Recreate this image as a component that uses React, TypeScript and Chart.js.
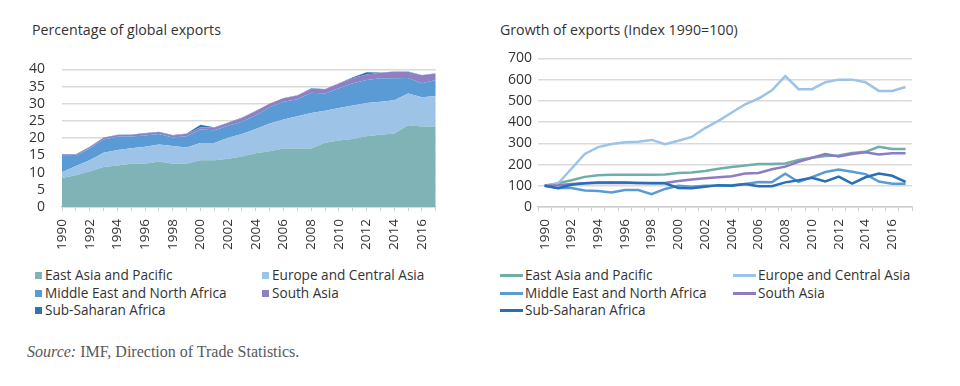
import React, { useEffect, useRef } from "react";
import { Chart, registerables } from "chart.js";

Chart.register(...registerables);

const years = [
  "1990", "1991", "1992", "1993", "1994", "1995", "1996", "1997", "1998", "1999",
  "2000", "2001", "2002", "2003", "2004", "2005", "2006", "2007", "2008", "2009",
  "2010", "2011", "2012", "2013", "2014", "2015", "2016", "2017",
];

const seriesNames = [
  "East Asia and Pacific",
  "Europe and Central Asia",
  "Middle East and North Africa",
  "South Asia",
  "Sub-Saharan Africa",
];

// Percentage of global exports (stacked)
const shareEastAsia = [8.4, 9.2, 10.3, 11.6, 12.1, 12.6, 12.6, 13.2, 12.6, 12.6, 13.6, 13.6, 14.0, 14.7, 15.6, 16.2, 17.0, 17.0, 17.0, 18.7, 19.3, 19.8, 20.6, 21.0, 21.4, 23.8, 23.4, 23.4];
const shareEurope = [1.7, 2.7, 3.3, 4.2, 4.5, 4.5, 4.9, 5.0, 5.1, 4.7, 5.0, 5.0, 6.1, 6.5, 7.1, 8.1, 8.4, 9.4, 10.3, 9.3, 9.5, 9.7, 9.6, 9.6, 9.6, 9.2, 8.5, 8.9];
const shareMENA = [4.8, 2.9, 3.4, 3.8, 3.8, 3.4, 3.3, 3.0, 2.5, 3.3, 3.9, 3.7, 3.5, 3.6, 4.0, 4.7, 5.2, 4.9, 5.9, 5.0, 5.7, 6.5, 6.7, 6.8, 6.4, 4.5, 4.1, 4.6];
const shareSouthAsia = [0.4, 0.4, 0.4, 0.5, 0.5, 0.5, 0.6, 0.6, 0.6, 0.7, 0.7, 0.8, 0.9, 1.1, 1.2, 1.0, 1.0, 1.1, 1.2, 1.2, 1.4, 1.5, 1.6, 1.6, 1.9, 1.8, 2.3, 1.9];
const shareSubSaharan = [0.1, 0.1, 0.1, 0.1, 0.1, 0.1, 0.1, 0.1, 0.1, 0.1, 0.7, 0.1, 0.1, 0.1, 0.1, 0.1, 0.1, 0.1, 0.1, 0.1, 0.1, 0.2, 0.7, 0.1, 0.1, 0.1, 0.1, 0.1];

// Growth of exports (Index 1990 = 100)
const growthEastAsia = [100, 112, 126, 142, 150, 152, 152, 152, 152, 153, 160, 163, 170, 180, 188, 195, 203, 203, 205, 222, 232, 240, 243, 255, 260, 284, 273, 273];
const growthEurope = [100, 110, 180, 250, 282, 297, 305, 307, 316, 296, 312, 330, 372, 406, 445, 484, 511, 550, 617, 555, 555, 588, 600, 600, 588, 547, 547, 565];
const growthMENA = [100, 89, 89, 78, 75, 68, 80, 80, 60, 85, 100, 95, 100, 100, 102, 108, 118, 117, 157, 118, 141, 165, 176, 166, 155, 120, 110, 110];
const growthSouthAsia = [100, 103, 108, 112, 113, 113, 113, 113, 113, 113, 122, 130, 135, 140, 145, 158, 160, 178, 190, 213, 232, 250, 238, 250, 258, 247, 253, 253];
const growthSubSaharan = [100, 88, 105, 112, 115, 115, 115, 113, 112, 112, 90, 88, 95, 103, 100, 108, 98, 98, 116, 126, 138, 120, 143, 110, 140, 158, 147, 118];

const shareAxis = { min: 0, max: 40, step: 5 };
const growthAxis = { min: 0, max: 700, step: 100 };

const areaColors = ["#80b3b5", "#9dc3e6", "#5b9bd5", "#8f80c4", "#2e75b6"];
const lineColors = ["#72aea8", "#9dc3e6", "#5b9bd5", "#8e7cc3", "#2a6fb5"];

const FONT = "'Open Sans', 'Noto Sans', sans-serif";
const TEXT = "#333333";
const GRID = "#dadada";

function xTickCallback(this: any, val: any, idx: number) {
  return idx % 2 === 0 ? this.getLabelForValue(val) : "";
}

function baseScales(
  axis: { min: number; max: number; step: number },
  yWidth: number,
  yPad: number,
  offset: boolean,
  stacked: boolean
) {
  return {
    x: {
      type: "category" as const,
      offset,
      stacked,
      grid: {
        display: true,
        offset,
        drawOnChartArea: false,
        drawTicks: true,
        tickLength: 4,
        color: "#cfcfcf",
        lineWidth: 1,
      },
      border: { display: true, color: "#cfcfcf", width: 1.5 },
      ticks: {
        autoSkip: false,
        maxRotation: 90,
        minRotation: 90,
        padding: 8,
        color: TEXT,
        font: { family: FONT, size: 13.5 },
        callback: xTickCallback,
      },
      afterFit: (s: any) => {
        s.height = 51;
      },
    },
    y: {
      stacked,
      min: axis.min,
      max: axis.max,
      grid: { color: GRID, lineWidth: 1.5, drawTicks: false },
      border: { display: false },
      ticks: {
        stepSize: axis.step,
        autoSkip: false,
        padding: yPad,
        color: TEXT,
        font: { family: FONT, size: 14 },
      },
      afterFit: (s: any) => {
        s.width = yWidth;
      },
    },
  };
}

function ShareChart() {
  const ref = useRef<HTMLCanvasElement>(null);
  useEffect(() => {
    if (!ref.current) return;
    const sets = [shareEastAsia, shareEurope, shareMENA, shareSouthAsia, shareSubSaharan];
    const chart = new Chart(ref.current, {
      type: "line",
      data: {
        labels: years,
        datasets: sets.map((d, i) => ({
          label: seriesNames[i],
          data: d,
          fill: i === 0 ? "origin" : "-1",
          backgroundColor: areaColors[i],
          borderColor: areaColors[i],
          borderWidth: 0,
          pointRadius: 0,
          tension: 0,
        })),
      },
      options: {
        responsive: false,
        animation: false,
        devicePixelRatio: 1,
        layout: { padding: { left: 0, right: 17, top: 10, bottom: 0 } },
        plugins: { legend: { display: false }, tooltip: { enabled: false }, title: { display: false } },
        scales: baseScales(shareAxis, 42, 17, false, true) as any,
      },
    });
    return () => chart.destroy();
  }, []);
  return (
    <canvas
      ref={ref}
      width={440}
      height={214}
      style={{ position: "absolute", left: 20, top: 44, width: 440, height: 214 }}
    />
  );
}

function GrowthChart() {
  const ref = useRef<HTMLCanvasElement>(null);
  useEffect(() => {
    if (!ref.current) return;
    const sets = [growthEastAsia, growthEurope, growthMENA, growthSouthAsia, growthSubSaharan];
    const chart = new Chart(ref.current, {
      type: "line",
      data: {
        labels: years,
        datasets: sets.map((d, i) => ({
          label: seriesNames[i],
          data: d,
          fill: false,
          borderColor: lineColors[i],
          backgroundColor: lineColors[i],
          borderWidth: 2.5,
          pointRadius: 0,
          tension: 0,
          order: 5 - i,
        })),
      },
      options: {
        responsive: false,
        animation: false,
        devicePixelRatio: 1,
        layout: { padding: { left: 0, right: 13, top: 14, bottom: 0 } },
        plugins: { legend: { display: false }, tooltip: { enabled: false }, title: { display: false } },
        scales: baseScales(growthAxis, 48, 6, true, false) as any,
      },
    });
    return () => chart.destroy();
  }, []);
  return (
    <canvas
      ref={ref}
      width={440}
      height={214}
      style={{ position: "absolute", left: 490, top: 44, width: 440, height: 214 }}
    />
  );
}

const textStyle: React.CSSProperties = {
  position: "absolute",
  fontFamily: FONT,
  color: TEXT,
  whiteSpace: "nowrap",
  lineHeight: "18px",
};

function SquareLegend({ left, top, color, label }: { left: number; top: number; color: string; label: string }) {
  return (
    <div style={{ ...textStyle, left, top, fontSize: 13.6 }}>
      <span
        style={{
          display: "inline-block",
          width: 7,
          height: 7,
          background: color,
          marginRight: 3,
          verticalAlign: "1px",
        }}
      />
      {label}
    </div>
  );
}

function LineLegend({ left, top, color, label }: { left: number; top: number; color: string; label: string }) {
  return (
    <div style={{ ...textStyle, left, top, fontSize: 13.6 }}>
      <span
        style={{
          display: "inline-block",
          width: 23,
          height: 3,
          background: color,
          marginRight: 2,
          verticalAlign: "3px",
        }}
      />
      {label}
    </div>
  );
}

export default function App() {
  const legendPos = [
    { col: 0, row: 0 },
    { col: 1, row: 0 },
    { col: 0, row: 1 },
    { col: 1, row: 1 },
    { col: 0, row: 2 },
  ];
  const rowTops = [266, 283.5, 301];
  return (
    <div
      style={{
        position: "absolute",
        left: 0,
        top: 0,
        width: 960,
        height: 386,
        background: "#ffffff",
        overflow: "hidden",
      }}
    >
      <div style={{ ...textStyle, left: 32, top: 21, fontSize: 14.2 }}>Percentage of global exports</div>
      <div style={{ ...textStyle, left: 500, top: 21, fontSize: 14.2 }}>Growth of exports (Index 1990=100)</div>
      <ShareChart />
      <GrowthChart />
      {seriesNames.map((n, i) => (
        <SquareLegend
          key={"s" + i}
          left={legendPos[i].col === 0 ? 35 : 262}
          top={rowTops[legendPos[i].row]}
          color={areaColors[i]}
          label={n}
        />
      ))}
      {seriesNames.map((n, i) => (
        <LineLegend
          key={"l" + i}
          left={legendPos[i].col === 0 ? 500 : 733}
          top={rowTops[legendPos[i].row]}
          color={lineColors[i]}
          label={n}
        />
      ))}
      <div
        style={{
          position: "absolute",
          left: 27,
          top: 343,
          fontFamily: "'Liberation Serif', 'DejaVu Serif', serif",
          fontSize: 16,
          color: "#595959",
          whiteSpace: "nowrap",
        }}
      >
        <i>Source:</i> IMF, Direction of Trade Statistics.
      </div>
    </div>
  );
}
